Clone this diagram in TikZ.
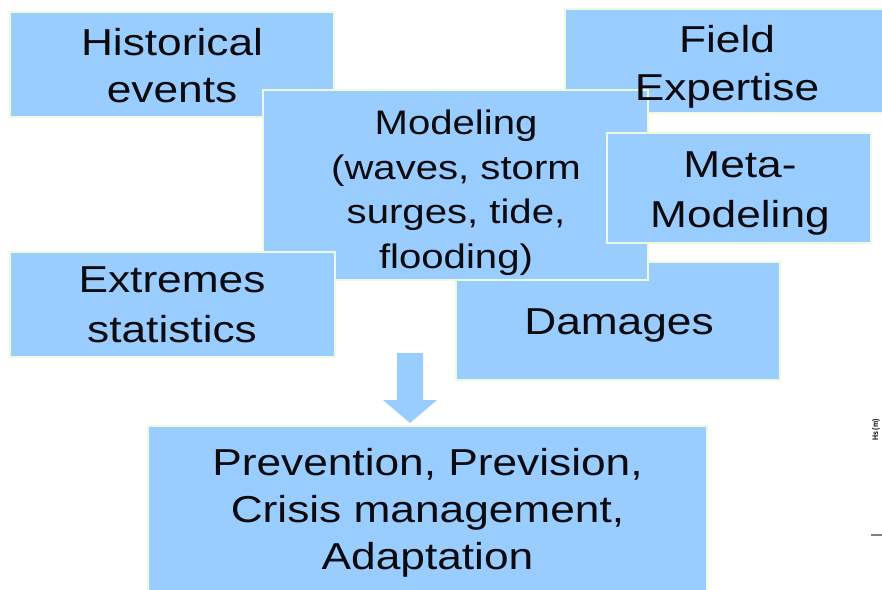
\documentclass[tikz,border=0pt]{standalone}
\usepackage{fontspec}
\setmainfont{Liberation Sans}
\definecolor{boxblue}{RGB}{153,204,255}
\definecolor{boxedge}{RGB}{236,250,222}
\definecolor{textblack}{RGB}{10,10,15}
\tikzset{
  bigtext/.style={font=\fontsize{37.5}{47}\selectfont},
  modtext/.style={font=\fontsize{34}{44.5}\selectfont},
  box/.style={color=boxedge,line width=1.2pt,fill=boxblue}
}

\begin{document}
\begin{tikzpicture}[x=1pt,y=-1pt, every node/.style={xscale=1.18,inner sep=0pt,align=center,anchor=north,text=textblack}]

          \useasboundingbox[fill=white] (0,0) rectangle (882,589);
          \coordinate (h1) at (10,12);
          \coordinate (h2) at (334,117);
          \coordinate (f1) at (565,9);
          \coordinate (f2) at (890,113);
          \coordinate (d1) at (456,262);
          \coordinate (d2) at (780,380);
          \coordinate (m1) at (263,90);
          \coordinate (m2) at (648,280);
          \coordinate (mm1) at (607,133);
          \coordinate (mm2) at (871,243);
          \coordinate (e1) at (10,252);
          \coordinate (e2) at (335,357);
          \coordinate (p1) at (148,426);
          \coordinate (p2) at (707,595);
          \draw[box] (h1) rectangle (h2);
          \draw[box] (f1) rectangle (f2);
          \draw[box] (d1) rectangle (d2);
          \draw[box] (m1) rectangle (m2);
          \draw[box] (mm1) rectangle (mm2);
          \draw[box] (e1) rectangle (e2);
          \draw[box] (p1) rectangle (p2);
          % arrow down to the last box
          \fill[boxblue] (397,353) -- (423,353) -- (423,400) -- (437,400) -- (410,423) --
                         (383,400) -- (397,400) -- cycle;
        \node[bigtext] (hist) at (172,28.3) {Historical\\events};
        \node[bigtext] (field) at (727,25) {Field\\[1pt]Expertise};
        \node[modtext] (model) at (456,110) {Modeling\\(waves, storm\\surges, tide,\\flooding)};
        \node[bigtext] (meta) at (740,151.7) {Meta-\\[3pt]Modeling};
        \node[bigtext] (extr) at (172,266.7) {Extremes\\[3pt]statistics};
        \node[bigtext] (dam) at (619,308.3) {Damages};
        \node[bigtext] (prev) at (427.5,448) {Prevention, Prevision,\\Crisis management,\\Adaptation};
        \node[font=\bfseries\fontsize{7}{8}\selectfont,rotate=90,anchor=center] (hs) at (876,430) {Hs (m)};
        \draw[color=gray,line width=2.5pt] (871,535) -- (882,535);
        \end{tikzpicture}
\end{document}
